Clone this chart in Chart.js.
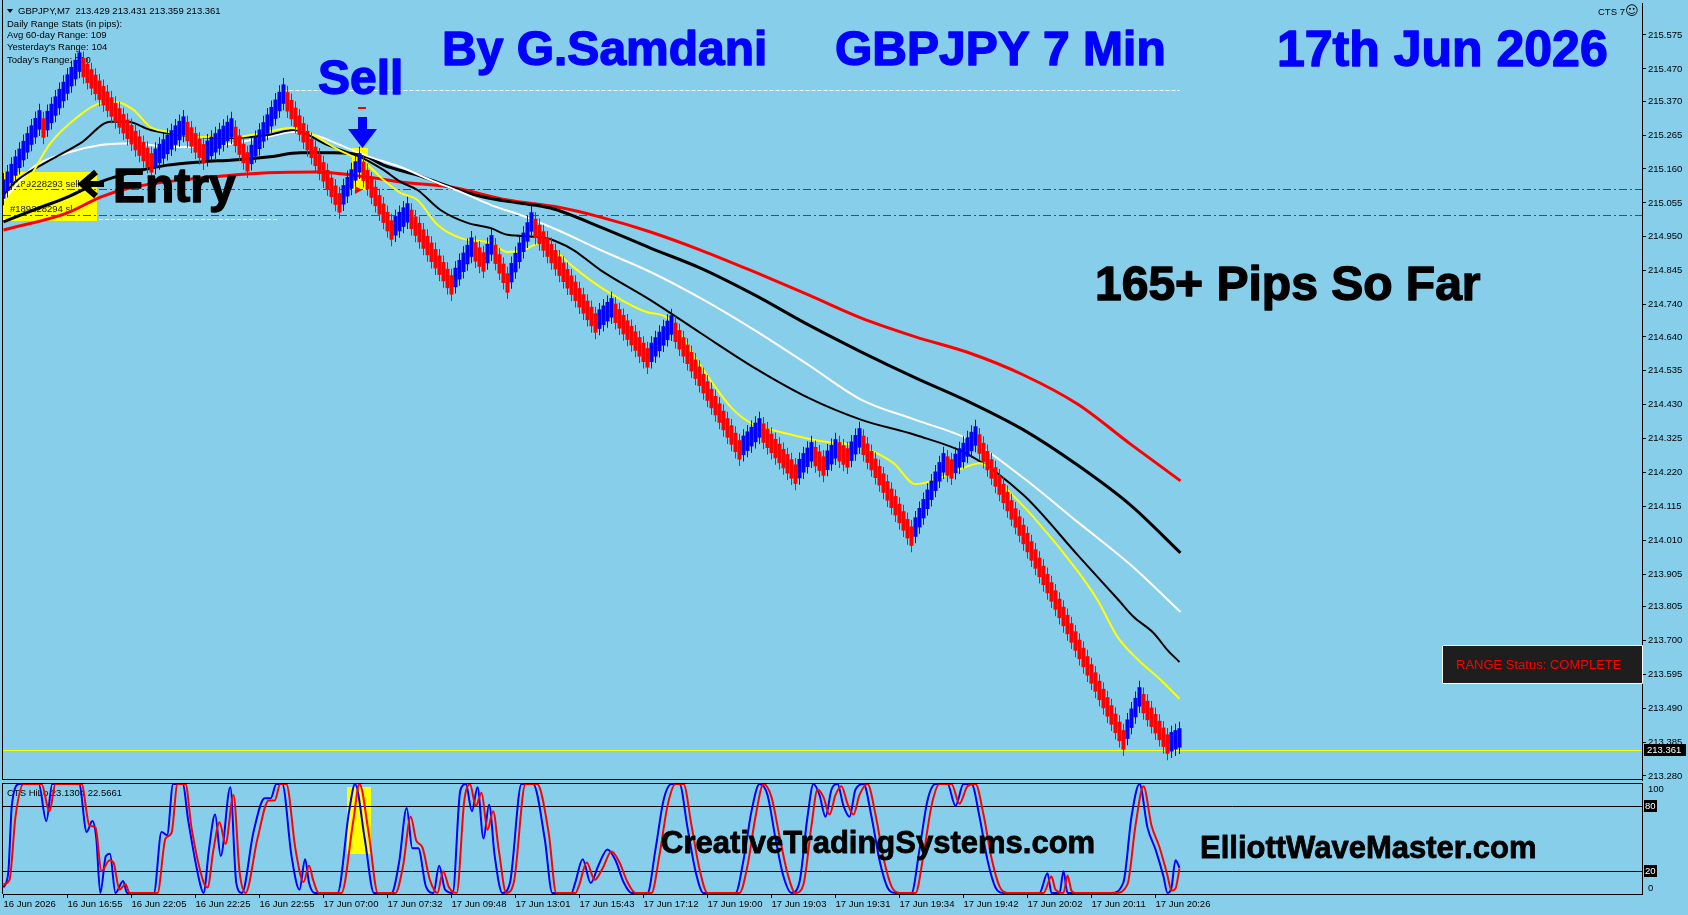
<!DOCTYPE html>
<html>
<head>
<meta charset="utf-8">
<title>GBPJPY 7 Min</title>
<script src="https://cdn.jsdelivr.net/npm/chart.js@4.4.1/dist/chart.umd.min.js"></script>
<style>
html,body{margin:0;padding:0;background:#87CEEB;overflow:hidden;}
body{width:1688px;height:915px;position:relative;}
#mainBox{position:absolute;left:0;top:0;width:1688px;height:781px;}
#oscBox{position:absolute;left:0;top:781px;width:1688px;height:134px;}
</style>
</head>
<body>
<div id="mainBox"><canvas id="mainChart"></canvas></div>
<div id="oscBox"><canvas id="oscChart"></canvas></div>
<script>
// ---------------- DATA ----------------
const priceTickLabels = ['215.575','215.470','215.370','215.265','215.160','215.055','214.950','214.845','214.740','214.640','214.535','214.430','214.325','214.220','214.115','214.010','213.905','213.805','213.700','213.595','213.490','213.385','213.280'];
const timeLabels = ['16 Jun 2026','16 Jun 16:55','16 Jun 22:05','16 Jun 22:25','16 Jun 22:55','17 Jun 07:00','17 Jun 07:32','17 Jun 09:48','17 Jun 13:01','17 Jun 15:43','17 Jun 17:12','17 Jun 19:00','17 Jun 19:03','17 Jun 19:31','17 Jun 19:34','17 Jun 19:42','17 Jun 20:02','17 Jun 20:11','17 Jun 20:26'];
const headerQuote = ['213.429','213.431','213.359','213.361'];
const rangeStats = ['Daily Range Stats (in pips):','Avg 60-day Range: 109',"Yesterday's Range: 104","Today's Range: 210"];

// range-bar mid prices, one per bar
const barMid = [
215.098,215.122,215.146,215.169,215.193,215.217,215.241,215.265,215.288,215.312,
215.287,215.310,215.332,215.355,215.378,215.400,215.423,215.446,215.468,215.491,
215.474,215.456,215.439,215.422,215.404,215.387,215.370,215.352,215.335,215.318,
215.300,215.283,215.266,215.248,215.231,215.214,215.196,215.179,215.193,215.208,
215.222,215.236,215.250,215.265,215.279,215.293,215.276,215.259,215.241,215.224,
215.207,215.218,215.230,215.241,215.253,215.264,215.276,215.287,215.261,215.234,
215.208,215.182,215.205,215.229,215.252,215.275,215.299,215.322,215.345,215.369,
215.392,215.368,215.344,215.320,215.296,215.272,215.248,215.224,215.199,215.175,
215.151,215.127,215.103,215.079,215.055,215.080,215.105,215.129,215.154,215.179,
215.153,215.127,215.101,215.075,215.049,215.023,214.997,214.971,214.984,214.997,
215.011,215.024,215.004,214.983,214.963,214.943,214.923,214.902,214.882,214.862,
214.842,214.821,214.801,214.824,214.848,214.871,214.895,214.918,214.903,214.887,
214.872,214.898,214.925,214.896,214.866,214.837,214.807,214.839,214.870,214.902,
214.933,214.965,214.996,214.976,214.957,214.937,214.918,214.898,214.879,214.859,
214.840,214.820,214.800,214.781,214.761,214.742,214.722,214.703,214.683,214.695,
214.707,214.718,214.730,214.713,214.696,214.678,214.661,214.644,214.627,214.609,
214.592,214.575,214.592,214.609,214.626,214.643,214.660,214.677,214.654,214.631,
214.609,214.586,214.563,214.540,214.518,214.495,214.472,214.449,214.427,214.404,
214.381,214.358,214.336,214.313,214.290,214.304,214.317,214.331,214.344,214.358,
214.342,214.326,214.310,214.294,214.279,214.263,214.247,214.231,214.215,214.232,
214.250,214.267,214.284,214.269,214.255,214.240,214.258,214.275,214.293,214.284,
214.274,214.265,214.286,214.306,214.327,214.304,214.280,214.257,214.233,214.210,
214.187,214.163,214.140,214.117,214.093,214.070,214.046,214.023,214.051,214.080,
214.108,214.137,214.165,214.193,214.222,214.250,214.240,214.231,214.248,214.265,
214.282,214.299,214.316,214.333,214.308,214.282,214.257,214.231,214.206,214.181,
214.155,214.130,214.104,214.079,214.054,214.028,214.003,213.977,213.952,213.926,
213.901,213.876,213.850,213.825,213.799,213.774,213.749,213.723,213.698,213.672,
213.647,213.621,213.596,213.571,213.545,213.520,213.494,213.469,213.443,213.418,
213.392,213.425,213.459,213.492,213.525,213.504,213.483,213.462,213.442,213.421,
213.400,213.379,213.386,213.392,213.398
];

// moving averages: [bar index, price]
const maRed = [[0,214.971],[16,215.024],[24.25,215.073],[32.5,215.104],[49.25,215.132],[66,215.148],[78.5,215.151],[91,215.135],[99.25,215.120],[111.75,215.104],[126,215.064],[138.5,215.042],[149.25,215.011],[161.75,214.965],[174.25,214.909],[187.75,214.841],[201.25,214.770],[214.5,214.698],[228,214.640],[241.5,214.590],[255,214.522],[268.5,214.432],[281.75,214.308],[294.25,214.194]];
const maBlackSlow = [[0,214.996],[7.5,215.033],[16,215.073],[24.25,215.120],[32.5,215.151],[41,215.172],[49.25,215.182],[57.5,215.188],[66,215.197],[74.25,215.210],[82.5,215.210],[91,215.197],[95,215.172],[103.5,215.141],[111.75,215.104],[120,215.073],[128.5,215.055],[136.75,215.039],[149.25,214.980],[161.75,214.915],[174.25,214.853],[187.75,214.770],[201.25,214.677],[214.5,214.593],[228,214.513],[241.5,214.438],[255,214.352],[268.5,214.243],[281.75,214.119],[294.25,213.971]];
const maWhite = [[0,215.064],[7.5,215.166],[16,215.210],[24.25,215.234],[32.5,215.240],[41,215.228],[49.25,215.228],[57.5,215.240],[66,215.259],[72.5,215.275],[78.5,215.262],[84.25,215.234],[91,215.200],[99.25,215.166],[106.75,215.126],[114.25,215.089],[121.75,215.049],[130,215.014],[138.5,214.971],[149.25,214.909],[161.75,214.841],[174.25,214.760],[187.75,214.661],[201.25,214.553],[214.5,214.445],[228,214.383],[241.5,214.321],[255,214.203],[268.5,214.067],[281.75,213.934],[294.25,213.788]];
const maBlackFast = [[0,215.080],[3.5,215.126],[11.75,215.188],[19.25,215.240],[26.75,215.306],[31,215.306],[36.75,215.281],[49.25,215.259],[57.5,215.256],[66,215.265],[72.5,215.281],[81,215.234],[89.25,215.197],[95,215.157],[99.25,215.120],[103.5,215.095],[109.25,215.033],[116,214.993],[121.75,214.977],[126,214.956],[134.25,214.949],[138.5,214.934],[142.5,214.909],[149.25,214.847],[161.75,214.754],[174.25,214.652],[187.75,214.544],[201.25,214.451],[214.5,214.383],[228,214.336],[241.5,214.274],[255,214.150],[268.5,213.965],[278.75,213.825],[282.5,213.773],[287.5,213.723],[291,213.670],[294,213.633]];
const maYellow = [[0,215.049],[5,215.104],[11.75,215.240],[18.5,215.321],[24.25,215.364],[28.5,215.367],[32.5,215.343],[36.75,215.290],[41,215.275],[49.25,215.259],[57.5,215.259],[66,215.275],[71.75,215.287],[76,215.275],[82.5,215.228],[91,215.172],[95,215.126],[99.25,215.086],[103.5,215.064],[108.5,214.987],[114.25,214.946],[121.75,214.931],[126,214.903],[130,214.909],[134.25,214.931],[138.5,214.900],[142.5,214.856],[150,214.788],[160.75,214.717],[166,214.699],[174.25,214.550],[182.25,214.417],[187.75,214.367],[193,214.349],[203.75,214.318],[214.5,214.299],[222.5,214.249],[228,214.184],[233.5,214.200],[238.75,214.228],[244.25,214.249],[249.5,214.184],[257.5,214.082],[268.5,213.915],[273.5,213.825],[278.5,213.711],[284.25,213.633],[289.25,213.578],[294,213.519]];

// horizontal levels
const entryLevel = 215.097;
const stopLevel = 215.018;
const dayHighLevel = 215.405;
const prevLevel = 215.011;
const lastPrice = 213.361;

// oscillator (CTS HiLo): [bar index, value]
const oscMain = [[0,5],[1.2,19],[2.1,81],[4,100],[8.8,100],[10.7,66],[12.2,100],[18.9,100],[20.8,56],[22.2,66],[23.2,50],[24.2,0],[25.6,34],[26.6,36],[28,0],[29.9,11],[30.9,0],[37.6,0],[39.5,56],[40.9,53],[42.4,100],[44.8,100],[46.2,66],[49.1,9],[50,0],[51.4,41],[52.9,72],[54.3,34],[56.7,97],[58.2,9],[59.6,0],[62.5,56],[65.3,87],[66.8,87],[68.2,100],[69.7,100],[72,34],[74,3],[75.4,31],[76.4,9],[77.8,0],[83.5,0],[86.4,75],[87.9,100],[90.3,50],[92.6,0],[97,0],[98.9,28],[100.8,78],[102.2,41],[103.7,41],[105.6,6],[107.5,0],[108.9,25],[110.4,3],[112.3,0],[114.2,94],[115.6,100],[117.1,75],[118.5,97],[120,50],[121.4,81],[122.8,34],[124.7,0],[126.6,9],[129.5,100],[132.4,100],[135.3,50],[137.2,0],[142,0],[142.9,9],[144.8,31],[146.8,9],[148.7,25],[151,40],[153,30],[155,10],[157,0],[161,0],[163,40],[165,85],[167,100],[169,100],[171,60],[173,20],[175,0],[183,0],[185,30],[187,75],[189,100],[191,90],[193,50],[195,15],[197,0],[199,10],[201,70],[202.5,100],[204,90],[205.5,70],[207,95],[208.5,100],[210,80],[211.5,70],[213,95],[215,100],[217,70],[219,30],[221,5],[223,0],[227,0],[229,40],[231,85],[233,100],[236,100],[238,80],[240,100],[242,100],[244,70],[246,30],[248,5],[250,0],[259,0],[261,18],[262,0],[264,0],[265,20],[266,0],[277,0],[280,10],[282,70],[284,100],[286,60],[288,40],[290,15],[291,0],[292,5],[293,30],[294,23.13]];
const oscSignal = [[0,8],[1.5,12],[3,70],[5,100],[9.5,100],[11.5,75],[13,100],[19.5,100],[21.5,62],[23,60],[24.5,20],[26.5,30],[27.5,28],[29,3],[30.5,8],[31.5,0],[38.5,0],[40.5,50],[42,55],[43.5,100],[45.5,100],[47,60],[50,10],[51,5],[52.5,40],[54,65],[55.5,45],[57.5,90],[59,20],[60.5,0],[63.5,50],[66.3,85],[67.8,85],[69.2,100],[70.7,100],[73,40],[75,10],[76.4,25],[77.4,12],[78.8,0],[84.5,0],[87.4,65],[89,100],[91.3,55],[93.6,0],[98,0],[99.9,25],[101.8,70],[103.2,48],[104.7,42],[106.6,12],[108.5,0],[109.9,20],[111.4,5],[113.3,0],[115.2,85],[116.6,100],[118.1,80],[119.5,92],[121,58],[122.4,75],[123.8,40],[125.7,0],[127.6,10],[130.5,100],[133.4,100],[136.3,55],[138.2,0],[143,0],[143.9,7],[145.8,28],[147.8,12],[149.7,22],[152,38],[154,28],[156,10],[158,0],[162,0],[164,35],[166,80],[168,100],[170,100],[172,62],[174,22],[176,0],[184,0],[186,25],[188,70],[190,100],[192,88],[194,52],[196,18],[198,0],[200,8],[202,62],[203.5,95],[205,88],[206.5,72],[208,90],[209.5,98],[211,82],[212.5,72],[214,90],[216,100],[218,72],[220,32],[222,6],[224,0],[228,0],[230,35],[232,80],[234,100],[237,100],[239,82],[241,98],[243,100],[245,72],[247,32],[249,6],[251,0],[260,0],[262,15],[263,3],[265,0],[266,16],[267,2],[268,0],[278,0],[281,8],[283,62],[285,98],[287,62],[289,42],[291,16],[292,2],[293,4],[294,22.57]];
const oscTitle = 'CTS HiLo 23.1304 22.5661';
const oscLevels = [80, 20];

// ---------------- STYLE / LAYOUT ----------------
const UI = "'Liberation Sans', Arial, sans-serif";
const X_MIN = -0.125, X_MAX = 409.625;
const Y_MIN = 213.2676, Y_MAX = 215.6741;
const UP = '#0000FF', DN = '#FF0000';
const WICK = 0.05, BODY = 0.03;

const barColors = barMid.map((m, i) => i === 0 ? UP : (m >= barMid[i - 1] ? UP : DN));
const toXY = arr => arr.map(p => ({x: p[0], y: p[1]}));
const lineDs = (pts, color, w, order) => ({
  type: 'line', data: toXY(pts), borderColor: color, borderWidth: w,
  pointRadius: 0, pointHoverRadius: 0, fill: false,
  cubicInterpolationMode: 'monotone', order
});

function hline(ctx, y, x0, x1, color, dash, w) {
  ctx.save();
  ctx.strokeStyle = color; ctx.lineWidth = w || 1; ctx.setLineDash(dash || []);
  ctx.beginPath(); ctx.moveTo(x0, y); ctx.lineTo(x1, y); ctx.stroke();
  ctx.restore();
}
function boldText(ctx, txt, x, y, color, font, sw) {
  ctx.font = font; ctx.fillStyle = color; ctx.strokeStyle = color;
  ctx.lineWidth = sw; ctx.lineJoin = 'round';
  ctx.strokeText(txt, x, y); ctx.fillText(txt, x, y);
}

const mainOverlay = {
  id: 'mainOverlay',
  beforeDatasetsDraw(chart) {
    const ctx = chart.ctx, ca = chart.chartArea, ys = chart.scales.y, xs = chart.scales.x;
    const py = v => Math.round(ys.getPixelForValue(v)) + 0.5;
    ctx.save();
    ctx.beginPath(); ctx.rect(ca.left, ca.top, ca.right - ca.left, ca.bottom - ca.top); ctx.clip();
    ctx.fillStyle = '#FFFF00';
    ctx.fillRect(3, 172, 94, 49);
    ctx.fillRect(352, 148, 16, 42);
    hline(ctx, py(entryLevel), ca.left, ca.right, '#008000', [8, 3, 2, 3]);
    hline(ctx, py(stopLevel), ca.left, ca.right, '#FF0000', [8, 3, 2, 3]);
    hline(ctx, py(dayHighLevel), xs.getPixelForValue(70), xs.getPixelForValue(294), '#FFFFFF', [4, 2]);
    hline(ctx, py(prevLevel) + 2, ca.left, xs.getPixelForValue(68.5), '#FFFFFF', [4, 2]);
    hline(ctx, py(lastPrice), ca.left, ca.right, '#FFFF00', []);
    ctx.fillStyle = '#222';
    ctx.font = '9.5px ' + UI;
    ctx.textBaseline = 'middle';
    ctx.fillText('#189228293 sell', 10, 184);
    ctx.fillText('#189228294 sl', 10, 209);
    ctx.fillStyle = '#000';
    ctx.beginPath(); ctx.moveTo(7, 9); ctx.lineTo(13, 9); ctx.lineTo(10, 13); ctx.closePath(); ctx.fill();
    ctx.fillText('GBPJPY,M7  ' + headerQuote.join(' '), 18, 11);
    const ly = [24, 35.5, 47.5, 60];
    rangeStats.forEach((t, k) => ctx.fillText(t, 7, ly[k]));
    ctx.restore();
  },
  afterDraw(chart) {
    const ctx = chart.ctx, ca = chart.chartArea, ys = chart.scales.y;
    ctx.save();
    hline(ctx, 779.5, 2, ca.right, '#000', []);
    ctx.strokeStyle = '#000'; ctx.lineWidth = 1;
    ctx.beginPath(); ctx.moveTo(2.5, 0); ctx.lineTo(2.5, 780); ctx.stroke();
    ctx.fillStyle = '#000'; ctx.textBaseline = 'middle';
    ctx.font = '9.5px ' + UI;
    ctx.fillText('CTS 7', 1598, 12);
    ctx.font = "13px 'DejaVu Sans'";
    ctx.fillText('\u263A', 1625, 12);
    ctx.textBaseline = 'alphabetic';
    const big = 'bold 48px ' + UI;
    boldText(ctx, 'By G.Samdani', 442, 65, '#0000FF', big, 1.4);
    boldText(ctx, 'GBPJPY 7 Min', 835, 65, '#0000FF', big, 1.4);
    boldText(ctx, '17th Jun 2026', 1277, 66, '#0000FF', 'bold 50px ' + UI, 1.4);
    boldText(ctx, 'Sell', 318, 94, '#0000FF', big, 1.4);
    ctx.fillStyle = '#FF0000';
    ctx.fillRect(358, 107, 8, 2);
    ctx.beginPath(); ctx.moveTo(355, 186); ctx.lineTo(362, 190); ctx.lineTo(355, 194); ctx.closePath(); ctx.fill();
    ctx.fillStyle = '#0000FF';
    ctx.fillRect(358, 117, 9, 13);
    ctx.beginPath(); ctx.moveTo(348, 129); ctx.lineTo(377, 129); ctx.lineTo(362.5, 148); ctx.closePath(); ctx.fill();
    boldText(ctx, 'Entry', 113, 202, '#000000', big, 1.4);
    ctx.strokeStyle = '#000'; ctx.lineWidth = 6; ctx.lineJoin = 'miter'; ctx.lineCap = 'butt';
    ctx.beginPath(); ctx.moveTo(104, 184); ctx.lineTo(84, 184); ctx.stroke();
    ctx.beginPath(); ctx.moveTo(96, 172); ctx.lineTo(82, 184); ctx.lineTo(96, 196); ctx.stroke();
    boldText(ctx, '165+ Pips So Far', 1095, 300, '#000000', big, 1.4);
    ctx.fillStyle = '#1E1E1E';
    ctx.fillRect(1442, 645, 200, 39);
    ctx.strokeStyle = '#FFFFFF'; ctx.lineWidth = 1;
    ctx.strokeRect(1442.5, 645.5, 200, 38);
    ctx.fillStyle = '#FF0000';
    ctx.font = '13px ' + UI; ctx.textBaseline = 'middle';
    ctx.fillText('RANGE Status: COMPLETE', 1456, 665.5);
    const yc = Math.round(ys.getPixelForValue(lastPrice));
    ctx.fillStyle = '#000';
    ctx.fillRect(1644, yc - 6, 42, 12);
    ctx.fillStyle = '#FFFFFF';
    ctx.font = '9.5px ' + UI;
    ctx.fillText(lastPrice.toFixed(3), 1647, yc + 0.5);
    ctx.restore();
  }
};

new Chart(document.getElementById('mainChart'), {
  type: 'bar',
  data: {
    datasets: [
      {type: 'bar', data: barMid.map((m, i) => ({x: i, y: [m - BODY, m + BODY]})), backgroundColor: barColors, barThickness: 4, grouped: false, inflateAmount: 0, borderWidth: 0, order: 0},
      {type: 'bar', data: barMid.map((m, i) => ({x: i, y: [m - WICK, m + WICK]})), backgroundColor: barColors, barThickness: 1, grouped: false, inflateAmount: 0, borderWidth: 0, order: 1},
      lineDs(maYellow, '#FFFF00', 2, 2),
      lineDs(maBlackFast, '#000000', 2, 3),
      lineDs(maWhite, '#FFFFFF', 2, 4),
      lineDs(maBlackSlow, '#000000', 3, 5),
      lineDs(maRed, '#FF0000', 3, 6)
    ]
  },
  options: {
    responsive: true, maintainAspectRatio: false, animation: false, devicePixelRatio: 1, events: [],
    layout: {padding: {left: 3, top: 3, right: 0, bottom: 1}},
    plugins: {legend: {display: false}, tooltip: {enabled: false}},
    scales: {
      x: {type: 'linear', min: X_MIN, max: X_MAX, offset: false, display: false, grid: {offset: false}},
      y: {
        type: 'linear', position: 'right', min: Y_MIN, max: Y_MAX, beginAtZero: false,
        afterBuildTicks: s => { s.ticks = priceTickLabels.map(t => ({value: parseFloat(t)})); },
        afterFit: s => { s.width = 46; s.paddingTop = 0; s.paddingBottom = 0; },
        ticks: {autoSkip: false, padding: 2, color: '#000', font: {family: UI, size: 9.5}, callback: (v, i) => priceTickLabels[i]},
        grid: {drawOnChartArea: false, drawTicks: true, tickLength: 4, color: '#000', lineWidth: 1},
        border: {display: true, color: '#000', width: 1}
      }
    }
  },
  plugins: [mainOverlay]
});

const oscOverlay = {
  id: 'oscOverlay',
  beforeDatasetsDraw(chart) {
    const ctx = chart.ctx, ca = chart.chartArea, ys = chart.scales.y;
    ctx.save();
    ctx.fillStyle = '#FFFF00';
    ctx.fillRect(347, 6, 24, 67);
    oscLevels.forEach(v => hline(ctx, Math.round(ys.getPixelForValue(v)) + 0.5, ca.left, ca.right, '#000', []));
    ctx.fillStyle = '#000'; ctx.font = '9.5px ' + UI; ctx.textBaseline = 'middle';
    ctx.fillText(oscTitle, 7, 12);
    ctx.restore();
  },
  afterDraw(chart) {
    const ctx = chart.ctx, ca = chart.chartArea, ys = chart.scales.y;
    ctx.save();
    hline(ctx, ca.top + 0.5, 2, ca.right, '#000', []);
    ctx.strokeStyle = '#000'; ctx.lineWidth = 1;
    ctx.beginPath(); ctx.moveTo(2.5, ca.top); ctx.lineTo(2.5, ca.bottom); ctx.stroke();
    ctx.textBaseline = 'alphabetic';
    boldText(ctx, 'CreativeTradingSystems.com', 661, 72, '#000000', 'bold 31px ' + UI, 0.8);
    boldText(ctx, 'ElliottWaveMaster.com', 1200, 77, '#000000', 'bold 31px ' + UI, 0.8);
    ctx.font = '9.5px ' + UI; ctx.textBaseline = 'middle'; ctx.fillStyle = '#000';
    ctx.fillText('100', 1648, 8);
    ctx.fillText('0', 1648, 107);
    oscLevels.forEach(v => {
      const y = Math.round(ys.getPixelForValue(v));
      ctx.fillStyle = '#000'; ctx.fillRect(1644, y - 6, 13, 12);
      ctx.fillStyle = '#FFF'; ctx.fillText(String(v), 1645, y + 0.5);
    });
    ctx.restore();
  }
};

new Chart(document.getElementById('oscChart'), {
  type: 'line',
  data: {
    datasets: [
      {data: toXY(oscSignal), borderColor: '#FF0000', borderWidth: 2, pointRadius: 0, fill: false, cubicInterpolationMode: 'monotone', order: 0},
      {data: toXY(oscMain), borderColor: '#0000FF', borderWidth: 2, pointRadius: 0, fill: false, cubicInterpolationMode: 'monotone', order: 1}
    ]
  },
  options: {
    responsive: true, maintainAspectRatio: false, animation: false, devicePixelRatio: 1, events: [],
    layout: {padding: {left: 3, top: 2, right: 0, bottom: 0}},
    plugins: {legend: {display: false}, tooltip: {enabled: false}},
    scales: {
      x: {
        type: 'linear', min: X_MIN, max: X_MAX, offset: false, position: 'bottom',
        afterBuildTicks: s => { s.ticks = timeLabels.map((t, k) => ({value: k * 16})); },
        afterFit: s => { s.height = 21; s.paddingLeft = 0; s.paddingRight = 0; },
        ticks: {autoSkip: false, maxRotation: 0, minRotation: 0, align: 'start', padding: 1, color: '#000', font: {family: UI, size: 9.5}, callback: (v, i) => timeLabels[i]},
        grid: {drawOnChartArea: false, drawTicks: true, tickLength: 4, color: '#000'},
        border: {display: true, color: '#000'}
      },
      y: {
        type: 'linear', position: 'right', min: -1, max: 101,
        afterFit: s => { s.width = 46; s.paddingTop = 0; s.paddingBottom = 0; },
        ticks: {display: false}, grid: {display: false, drawTicks: false},
        border: {display: true, color: '#000'}
      }
    }
  },
  plugins: [oscOverlay]
});
</script>
</body>
</html>
